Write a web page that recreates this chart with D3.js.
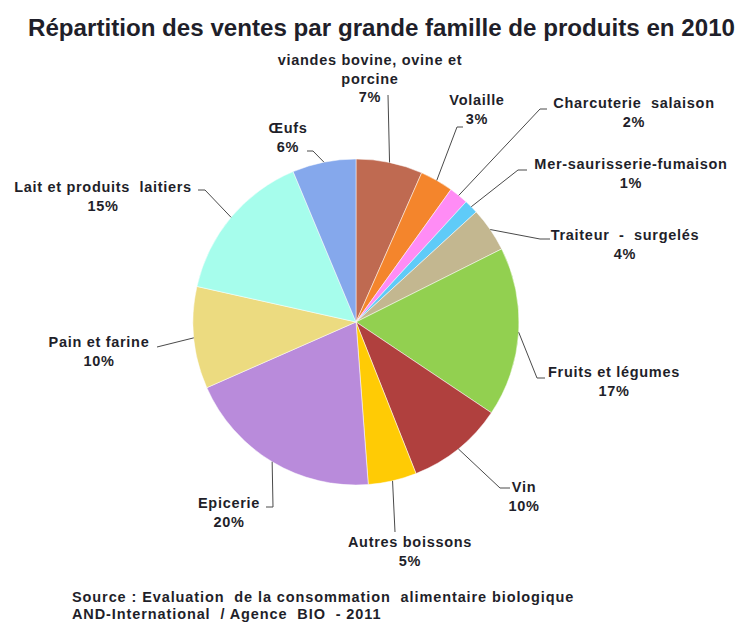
<!DOCTYPE html>
<html>
<head>
<meta charset="utf-8">
<script src="https://cdn.jsdelivr.net/npm/d3@7"></script>
<style>
  body { margin: 0; background: #fff; }
  text { font-family: "Liberation Sans", Arial, sans-serif; font-weight: bold; fill: #1f1f2a; }
</style>
</head>
<body>
<div id="chart"></div>
<script>
//data, clockwise from 12 o'clock
const categories = [
  "viandes bovine, ovine et porcine", "Volaille", "Charcuterie  salaison",
  "Mer-saurisserie-fumaison", "Traiteur  -  surgelés", "Fruits et légumes",
  "Vin", "Autres boissons", "Epicerie", "Pain et farine",
  "Lait et produits  laitiers", "Œufs"
];
const shares = [6.6, 3.3, 1.9, 1.4, 4.4, 16.8, 9.6, 4.8, 19.6, 10.1, 15.2, 6.3];
const colors = [
  "#bf6a51", "#f4852c", "#ff8cf5", "#5fcbf8", "#c3b790", "#92d050",
  "#b0403e", "#ffcb05", "#b98bdb", "#ecdb80", "#a6fdec", "#85a8ec"
];

//label layout: text centre / first baseline, leader elbow and end
const labelLayout = [
  { lines: ["viandes bovine, ovine et", "porcine"], x: 370, y: 65, elbow: [388, 95], end: [388, 95] },
  { lines: ["Volaille"], x: 477, y: 105, elbow: [457, 127], end: [463, 127] },
  { lines: ["Charcuterie  salaison"], x: 634, y: 108, elbow: [540, 109], end: [547, 109] },
  { lines: ["Mer-saurisserie-fumaison"], x: 631, y: 169, elbow: [518, 170], end: [527, 170] },
  { lines: ["Traiteur  -  surgelés"], x: 625, y: 240, elbow: [540, 239], end: [550, 239] },
  { lines: ["Fruits et légumes"], x: 614, y: 377, elbow: [537, 378], end: [545, 378] },
  { lines: ["Vin"], x: 524, y: 492, elbow: [500, 488], end: [510, 488] },
  { lines: ["Autres boissons"], x: 410, y: 547, elbow: [395, 532], end: [395, 532] },
  { lines: ["Epicerie"], x: 229, y: 508, elbow: [273, 507], end: [266, 507] },
  { lines: ["Pain et farine"], x: 99, y: 347, elbow: [157, 347], end: [157, 347] },
  { lines: ["Lait et produits  laitiers"], x: 103, y: 192, elbow: [205, 190], end: [198, 190] },
  { lines: ["Œufs"], x: 288, y: 133, elbow: [313, 151], end: [307, 151] }
];

const width = 737;
const height = 625;
const cx = 356;
const cy = 322;
const radius = 163;
const lineGap = 18.5;

const svg = d3.select("#chart")
    .append("svg")
    .attr("width", width)
    .attr("height", height);

//title
svg.append("text")
    .attr("x", 28)
    .attr("y", 36)
    .attr("font-size", 23)
    .attr("textLength", 707)
    .attr("lengthAdjust", "spacingAndGlyphs")
    .text("Répartition des ventes par grande famille de produits en 2010");

const data = categories.map((name, i) => ({ name, value: shares[i], color: colors[i], layout: labelLayout[i] }));

const pie = d3.pie().sort(null).value((d) => d.value);
const arcs = pie(data);
const arc = d3.arc().innerRadius(0).outerRadius(radius);

const gPie = svg.append("g").attr("transform", `translate(${cx},${cy})`);

gPie.selectAll("path.slice")
    .data(arcs)
    .join("path")
    .attr("class", "slice")
    .attr("d", arc)
    .attr("fill", (d) => d.data.color)
    .attr("stroke", "#fff")
    .attr("stroke-width", 0.5);

//leader lines from the slice edge at mid angle
const edgePoint = (d) => {
  const a = (d.startAngle + d.endAngle) / 2;
  return [cx + radius * Math.sin(a), cy - radius * Math.cos(a)];
};

svg.selectAll("polyline.leader")
    .data(arcs)
    .join("polyline")
    .attr("class", "leader")
    .attr("fill", "none")
    .attr("stroke", "#4a4a4a")
    .attr("stroke-width", 1)
    .attr("points", (d) => [edgePoint(d), d.data.layout.elbow, d.data.layout.end].map((p) => p.join(",")).join(" "));

//labels
const label = svg.selectAll("text.label")
    .data(arcs)
    .join("text")
    .attr("class", "label")
    .attr("font-size", 14.5)
    .attr("letter-spacing", 0.7)
    .attr("text-anchor", "middle");

label.each(function (d) {
  const t = d3.select(this);
  const L = d.data.layout;
  const lines = L.lines.concat([Math.round(d.data.value) + "%"]);
  lines.forEach((s, i) => {
    t.append("tspan")
        .attr("x", L.x)
        .attr("y", L.y + i * lineGap)
        .style("white-space", "pre")
        .text(s);
  });
});

//source
const source = svg.append("text")
    .attr("font-size", 14.5)
    .attr("letter-spacing", 0.9)
    .style("white-space", "pre");
source.append("tspan").attr("x", 72).attr("y", 602).text("Source : Evaluation  de la consommation  alimentaire biologique");
source.append("tspan").attr("x", 72).attr("y", 619).text("AND-International  / Agence  BIO  - 2011");
</script>
</body>
</html>
